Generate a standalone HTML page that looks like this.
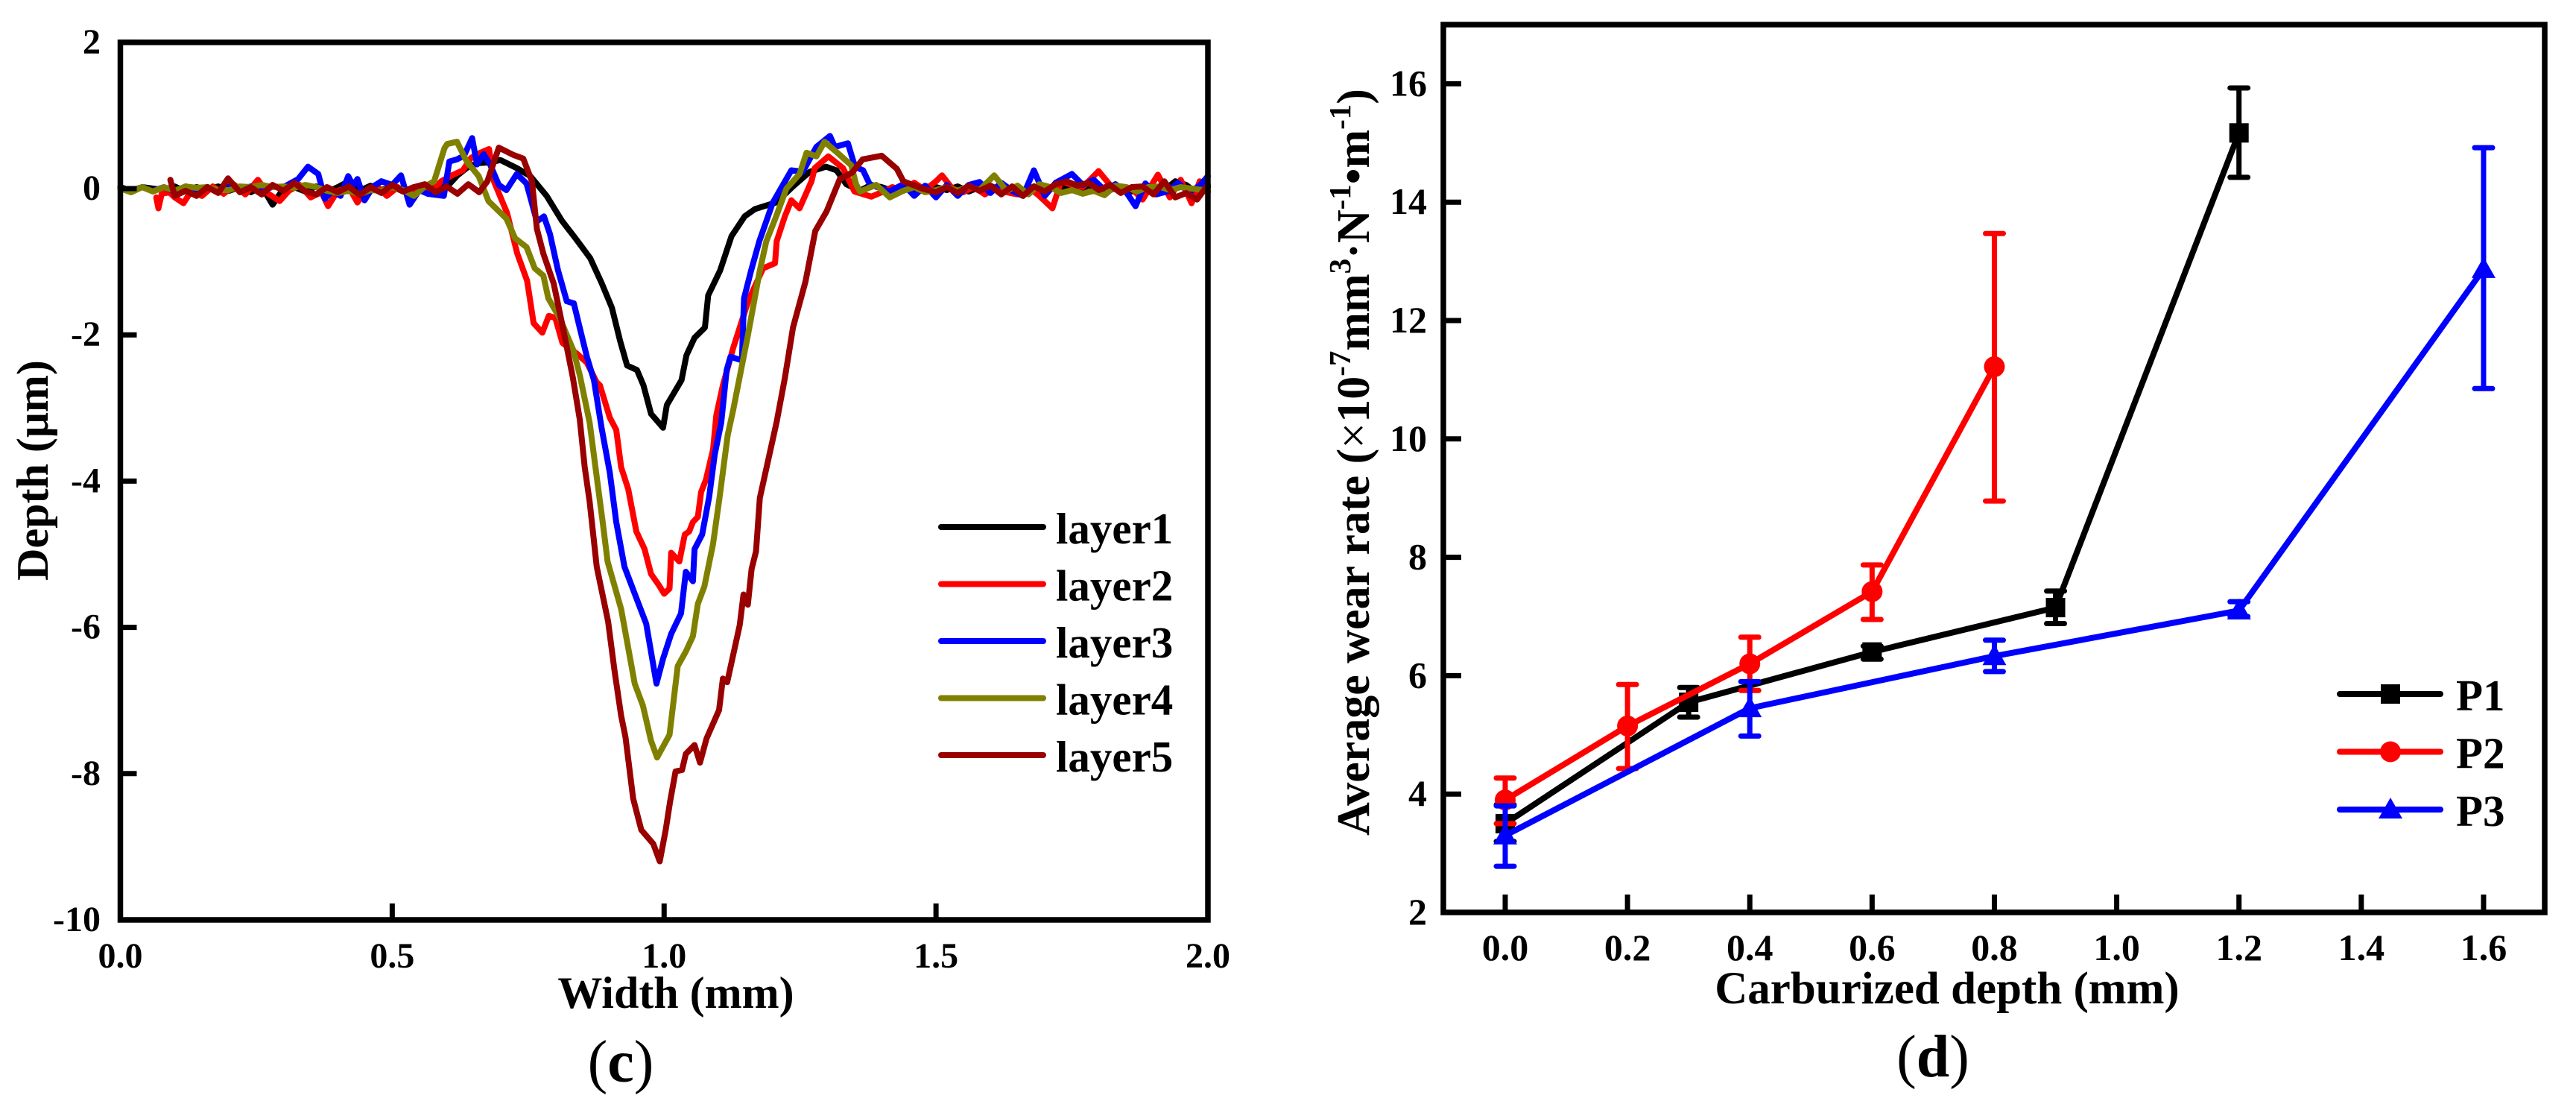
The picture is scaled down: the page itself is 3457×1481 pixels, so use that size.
<!DOCTYPE html>
<html lang="en">
<head>
<meta charset="utf-8">
<title>Wear track profiles and average wear rate</title>
<style>
html,body{margin:0;padding:0;background:#fff;}
svg{display:block;font-family:"Liberation Serif","Times New Roman",serif;}
text{fill:#000;font-weight:bold;}
</style>
</head>
<body>
<svg id="figure" xmlns="http://www.w3.org/2000/svg" width="3457" height="1481" viewBox="0 0 3457 1481">
  <rect x="0" y="0" width="3457" height="1481" fill="#fff"/>
  <g id="panel-c"></g>
  <g id="panel-d"></g>
  <text x="907" y="1352" font-size="60" text-anchor="middle">Width (mm)</text>
  <text transform="translate(64,631) rotate(-90)" font-size="60" text-anchor="middle">Depth (μm)</text>
  <text x="833" y="1451" font-size="80" text-anchor="middle"><tspan style="font-weight:normal">(</tspan>c<tspan style="font-weight:normal">)</tspan></text>
  <text x="2613" y="1346" font-size="61" text-anchor="middle">Carburized depth (mm)</text>
  <text transform="translate(1837,620) rotate(-90)" font-size="62" text-anchor="middle">Average wear rate (<tspan style="font-weight:normal">×</tspan>10<tspan dy="-25" font-size="41">-7</tspan><tspan dy="25">mm</tspan><tspan dy="-25" font-size="41">3</tspan><tspan dy="25">·N</tspan><tspan dy="-25" font-size="41">-1</tspan><tspan dy="25">•m</tspan><tspan dy="-25" font-size="41">-1</tspan><tspan dy="25">)</tspan></text>
  <text x="2594" y="1444" font-size="80" text-anchor="middle"><tspan style="font-weight:normal">(</tspan>d<tspan style="font-weight:normal">)</tspan></text>
</svg>
<script>
// ---------- Panel (c) data ----------
const depthXTicks = [0, 0.5, 1, 1.5, 2];
const depthXTickLabels = ["0.0", "0.5", "1.0", "1.5", "2.0"];
const depthYTicks = [2, 0, -2, -4, -6, -8, -10];
const depthYTickLabels = ["2", "0", "-2", "-4", "-6", "-8", "-10"];
const layerNames = ["layer1", "layer2", "layer3", "layer4", "layer5"];

const layer1Width = [0,.02,.04,.06,.08,.1,.12,.14,.16,.18,.2,.22,.24,.26,.28,.3,.32,.34,.36,.38,.4,.42,.44,.46,.48,.5,.52,.54,.56,.58,.6,.62,.64,.66,.68,.699,.729,.754,.784,.812,.837,.864,.885,.904,.919,.932,.95,.962,.976,.998,1.005,1.032,1.041,1.056,1.075,1.081,1.103,1.124,1.148,1.167,1.206,1.237,1.268,1.298,1.317,1.335,1.36,1.38,1.4,1.42,1.44,1.46,1.48,1.5,1.52,1.54,1.56,1.58,1.6,1.62,1.64,1.66,1.68,1.7,1.72,1.74,1.76,1.78,1.8,1.82,1.84,1.86,1.88,1.9,1.92,1.94,1.96,1.98,2];
const layer1Depth = [.02,-.03,.02,0,-.02,.03,-.04,.02,-.02,.03,-.03,.02,-.05,.03,-.22,0,.02,-.04,.03,-.05,.02,.1,-.03,.04,-.02,.03,-.04,.02,0,.05,.02,.18,.3,.35,.36,.39,.28,.17,-.1,-.44,-.68,-.95,-1.29,-1.63,-2.08,-2.42,-2.48,-2.69,-3.08,-3.27,-2.96,-2.62,-2.28,-2.04,-1.9,-1.46,-1.12,-.65,-.38,-.28,-.19,.03,.23,.3,.25,.06,-.03,.05,.02,-.03,.02,-.04,.03,.02,-.02,.03,-.04,.02,.04,-.03,.02,-.05,.03,-.06,.03,.02,-.02,.04,.03,-.02,.03,-.04,.02,.03,-.02,.1,.05,-.06,.02];

const layer2Width = [.066,.07,.076,.09,.1,.116,.13,.15,.17,.19,.21,.23,.253,.27,.293,.31,.33,.35,.37,.382,.4,.42,.436,.45,.47,.49,.51,.53,.55,.57,.59,.61,.63,.645,.662,.678,.687,.711,.73,.748,.76,.776,.788,.8,.813,.84,.858,.876,.882,.9,.912,.921,.934,.949,.964,.976,.99,1,1.01,1.013,1.028,1.038,1.046,1.053,1.062,1.068,1.077,1.09,1.096,1.108,1.127,1.155,1.182,1.204,1.207,1.222,1.234,1.249,1.271,1.277,1.302,1.329,1.35,1.381,1.4,1.42,1.44,1.46,1.48,1.5,1.511,1.53,1.55,1.57,1.59,1.61,1.63,1.65,1.67,1.69,1.714,1.73,1.75,1.77,1.799,1.82,1.84,1.86,1.88,1.908,1.93,1.95,1.97,1.985,2];
const layer2Depth = [-.12,-.27,-.07,-.05,-.12,-.2,-.04,-.1,.03,-.07,.05,-.08,.12,-.06,-.17,-.03,.05,-.12,-.05,-.24,-.03,.02,-.19,-.04,.05,-.1,.02,-.08,.03,-.06,.1,.18,.25,.42,.49,.54,.1,-.33,-.89,-1.26,-1.84,-1.97,-1.74,-1.77,-2.11,-2.26,-2.38,-2.65,-2.69,-3.13,-3.3,-3.81,-4.11,-4.69,-4.93,-5.27,-5.42,-5.54,-5.47,-4.98,-5.1,-4.73,-4.69,-4.56,-4.49,-4.15,-3.98,-3.57,-3.1,-2.69,-2.18,-1.53,-1.09,-1.02,-.72,-.38,-.16,-.27,.1,.28,.44,.28,-.04,-.11,-.05,.02,-.03,.08,-.02,.1,.18,0,-.05,.02,-.08,.02,-.05,-.08,.02,-.1,-.27,.1,.05,.02,.24,.05,-.05,0,-.15,.19,-.12,.12,-.2,.1,-.05];

const layer3Width = [.06,.08,.1,.12,.14,.16,.18,.2,.22,.24,.26,.28,.3,.327,.345,.364,.376,.39,.405,.419,.428,.436,.449,.465,.48,.5,.516,.532,.55,.565,.595,.605,.619,.632,.647,.656,.668,.68,.696,.71,.729,.747,.766,.779,.79,.805,.821,.834,.846,.858,.871,.885,.9,.912,.927,.948,.967,.986,.998,1.013,1.031,1.04,1.053,1.056,1.07,1.083,1.093,1.105,1.115,1.122,1.143,1.147,1.16,1.175,1.2,1.234,1.255,1.28,1.305,1.314,1.338,1.351,1.366,1.378,1.414,1.44,1.46,1.48,1.5,1.52,1.54,1.56,1.58,1.6,1.62,1.64,1.66,1.68,1.7,1.72,1.75,1.77,1.79,1.81,1.83,1.85,1.867,1.885,1.905,1.925,1.945,1.965,1.985,2];
const layer3Depth = [-.03,.02,-.04,.03,-.02,.02,-.04,.03,-.02,.03,-.05,.03,.02,.13,.3,.2,-.14,-.03,-.1,.17,.04,.13,-.16,.03,.1,.05,.18,-.22,-.02,-.07,-.1,.37,.4,.45,.69,.33,.47,.33,.05,-.02,.2,.07,-.45,-.38,-.62,-1.12,-1.54,-1.57,-1.94,-2.3,-2.62,-3.27,-3.88,-4.56,-5.17,-5.58,-5.95,-6.77,-6.43,-6.09,-5.81,-5.24,-5.37,-4.93,-4.73,-4.21,-3.64,-3.2,-2.48,-2.3,-2.35,-1.5,-1.12,-.72,-.19,.25,.23,.57,.72,.57,.62,.3,.25,.06,-.04,.06,-.1,.04,-.12,.05,-.1,.05,.09,-.06,.08,-.03,-.1,.25,-.1,.08,.2,.05,.12,-.02,.06,-.05,-.24,.07,-.08,-.04,.08,-.05,.04,.17];

const layer4Width = [0,.02,.04,.06,.08,.1,.12,.14,.16,.18,.2,.22,.24,.26,.28,.3,.32,.34,.36,.38,.4,.42,.44,.46,.48,.5,.52,.54,.56,.577,.596,.601,.619,.637,.659,.677,.71,.726,.747,.762,.778,.787,.808,.833,.845,.863,.875,.887,.896,.921,.946,.961,.976,.987,1.01,1.025,1.04,1.053,1.062,1.074,1.09,1.102,1.117,1.127,1.154,1.176,1.188,1.206,1.225,1.249,1.262,1.28,1.295,1.317,1.344,1.353,1.36,1.39,1.415,1.44,1.46,1.48,1.5,1.52,1.54,1.56,1.58,1.607,1.63,1.65,1.67,1.69,1.71,1.73,1.75,1.77,1.79,1.81,1.83,1.85,1.87,1.89,1.91,1.93,1.95,1.97,2];
const layer4Depth = [0,-.05,.02,-.04,.02,-.03,.03,.01,.02,-.02,-.02,.03,.02,.05,.02,.03,.01,.05,.02,-.03,-.06,-.03,-.08,-.02,-.03,.02,-.02,-.1,.03,.1,.55,.61,.64,.37,.17,-.17,-.41,-.68,-.8,-1.09,-1.19,-1.5,-1.77,-2.21,-2.55,-3.2,-3.88,-4.56,-5.1,-5.75,-6.77,-7.07,-7.55,-7.78,-7.47,-6.53,-6.33,-6.12,-5.68,-5.44,-4.86,-4.22,-3.37,-3.03,-2.01,-1.12,-.72,-.38,0,.2,.49,.44,.64,.5,.32,.06,-.04,.05,-.12,-.03,.02,-.05,-.02,.02,-.03,.03,-.02,.18,-.03,.04,-.08,.06,.02,-.06,-.02,-.07,-.03,-.09,.04,.02,-.04,.02,.03,-.02,.02,0,-.03];

const layer5Width = [.092,.1,.12,.14,.16,.18,.198,.22,.24,.26,.28,.3,.32,.34,.36,.38,.4,.42,.44,.46,.48,.5,.52,.54,.56,.58,.6,.62,.64,.66,.675,.696,.723,.741,.757,.766,.778,.797,.815,.832,.845,.854,.863,.876,.897,.909,.921,.929,.943,.958,.98,.992,1.003,1.011,1.021,1.033,1.04,1.056,1.066,1.078,1.101,1.108,1.116,1.139,1.146,1.154,1.161,1.169,1.176,1.207,1.222,1.237,1.26,1.278,1.299,1.323,1.346,1.365,1.4,1.428,1.44,1.475,1.5,1.52,1.54,1.56,1.58,1.6,1.62,1.64,1.66,1.68,1.7,1.72,1.74,1.76,1.78,1.8,1.82,1.84,1.86,1.88,1.9,1.92,1.94,1.96,1.98,2];
const layer5Depth = [.12,-.1,-.03,-.1,.02,-.06,.14,-.05,.02,-.08,.05,-.03,.08,-.04,-.08,.02,-.05,.03,-.09,.02,-.06,.05,-.04,.02,.06,-.05,.03,-.07,.06,-.05,.1,.56,.46,.41,.1,-.55,-.89,-1.3,-1.94,-2.58,-3.16,-3.81,-4.28,-5.17,-5.92,-6.6,-7.21,-7.5,-8.34,-8.77,-8.96,-9.2,-8.77,-8.38,-7.97,-7.95,-7.73,-7.61,-7.85,-7.52,-7.13,-6.7,-6.75,-5.97,-5.55,-5.69,-5.2,-4.96,-4.23,-3.19,-2.59,-1.9,-1.27,-.58,-.31,.13,.22,.4,.45,.27,.1,0,-.05,.02,-.06,.04,-.03,.04,-.08,.03,-.1,.03,-.04,.06,.1,.04,.08,-.02,.05,-.06,.02,.03,-.08,.1,-.12,-.06,-.15,.05];

// ---------- Panel (d) data ----------
const wearXTicks = [0, .2, .4, .6, .8, 1, 1.2, 1.4, 1.6];
const wearXTickLabels = ["0.0", "0.2", "0.4", "0.6", "0.8", "1.0", "1.2", "1.4", "1.6"];
const wearYTicks = [2, 4, 6, 8, 10, 12, 14, 16];
const wearYTickLabels = ["2", "4", "6", "8", "10", "12", "14", "16"];
const seriesNames = ["P1", "P2", "P3"];

const p1Depths = [0, .3, .6, .9, 1.2];
const p1Wear = [3.5, 5.55, 6.4, 7.15, 15.17];
const p1Low = [3.2, 5.3, 6.28, 6.88, 14.42];
const p1High = [3.82, 5.8, 6.5, 7.43, 15.93];

const p2Depths = [0, .2, .4, .6, .8];
const p2Wear = [3.9, 5.15, 6.2, 7.42, 11.22];
const p2Low = [3.5, 4.43, 5.75, 6.95, 8.95];
const p2High = [4.27, 5.85, 6.65, 7.87, 13.47];

const p3Depths = [0, .4, .8, 1.2, 1.6];
const p3Wear = [3.3, 5.45, 6.33, 7.1, 12.87];
const p3Low = [2.78, 4.98, 6.07, 7, 10.85];
const p3High = [3.8, 5.9, 6.6, 7.25, 14.92];

// ---------- Helpers ----------
const NS = "http://www.w3.org/2000/svg";
function mk(parent, tag, props, content) {
  const el = document.createElementNS(NS, tag);
  for (const k in props) el.setAttribute(k, props[k]);
  if (content !== undefined) el.textContent = content;
  parent.appendChild(el);
  return el;
}
function pathOf(xs, ys, fx, fy) {
  return xs.map((v, i) => (i ? "L" : "M") + fx(v).toFixed(1) + " " + fy(ys[i]).toFixed(1)).join("");
}

// ---------- Panel (c) ----------
const panelC = document.getElementById("panel-c");
const cX = v => 161.5 + 729.75 * v;
const cY = v => 253 - 98.1 * v;
const layerColors = ["#000000", "#ff0000", "#0000ff", "#808000", "#990000"];
const layerWidths = [layer1Width, layer2Width, layer3Width, layer4Width, layer5Width];
const layerDepths = [layer1Depth, layer2Depth, layer3Depth, layer4Depth, layer5Depth];

layerNames.forEach((name, i) => {
  const curve = mk(panelC, "path", {d: pathOf(layerWidths[i], layerDepths[i], cX, cY), fill: "none", stroke: layerColors[i], "stroke-width": 8, "stroke-linejoin": "round", "stroke-linecap": "round"});
  
  
});

const cFrame = mk(panelC, "rect", {x: cX(0), y: cY(2), width: cX(2) - cX(0), height: cY(-10) - cY(2), fill: "none", stroke: "#000", "stroke-width": 7.5});



depthXTicks.forEach((v, i) => {
  if (i > 0 && i < depthXTicks.length - 1) {
    const tick = mk(panelC, "line", {x1: cX(v), x2: cX(v), y1: cY(-10), y2: cY(-10) - 22, stroke: "#000", "stroke-width": 7});
    
    
  }
  const label = mk(panelC, "text", {x: cX(v), y: 1298, "font-size": 48, "text-anchor": "middle"}, depthXTickLabels[i]);
  
  
});
depthYTicks.forEach((v, i) => {
  const tick = mk(panelC, "line", {x1: cX(0), x2: cX(0) + 22, y1: cY(v), y2: cY(v), stroke: "#000", "stroke-width": 7});
  
  
  const label = mk(panelC, "text", {x: 135, y: cY(v) + 15, "font-size": 48, "text-anchor": "end"}, depthYTickLabels[i]);
  
  
});

layerNames.forEach((name, i) => {
  const rowY = 707 + 76.5 * i;
  const key = mk(panelC, "line", {x1: 1263, x2: 1400, y1: rowY, y2: rowY, stroke: layerColors[i], "stroke-width": 8, "stroke-linecap": "round"});
  
  
  const label = mk(panelC, "text", {x: 1417, y: rowY + 22, "font-size": 59}, name);
  
  
});

// ---------- Panel (d) ----------
const panelD = document.getElementById("panel-d");
const dX = v => 2020 + 820.6 * v;
const dY = v => 1224 - 79.4 * (v - 2);
const seriesColors = ["#000000", "#ff0000", "#0000ff"];
const seriesX = [p1Depths, p2Depths, p3Depths];
const seriesY = [p1Wear, p2Wear, p3Wear];
const seriesLow = [p1Low, p2Low, p3Low];
const seriesHigh = [p1High, p2High, p3High];

function marker(parent, idx, cx, cy) {
  const color = seriesColors[idx];
  if (idx === 0) return mk(parent, "rect", {x: cx - 13, y: cy - 13, width: 26, height: 26, fill: color});
  if (idx === 1) return mk(parent, "circle", {cx: cx, cy: cy, r: 14, fill: color});
  return mk(parent, "polygon", {points: (cx - 16) + "," + (cy + 12) + " " + (cx + 16) + "," + (cy + 12) + " " + cx + "," + (cy - 16), fill: color});
}

seriesNames.forEach((name, s) => {
  const line = mk(panelD, "path", {d: pathOf(seriesX[s], seriesY[s], dX, dY), fill: "none", stroke: seriesColors[s], "stroke-width": 8, "stroke-linejoin": "round"});
  
  
  seriesX[s].forEach((v, i) => {
    const px = dX(v);
    const bar = mk(panelD, "line", {x1: px, x2: px, y1: dY(seriesLow[s][i]), y2: dY(seriesHigh[s][i]), stroke: seriesColors[s], "stroke-width": 7});
    
    
    [seriesLow[s][i], seriesHigh[s][i]].forEach(val => {
      const cap = mk(panelD, "line", {x1: px - 12, x2: px + 12, y1: dY(val), y2: dY(val), stroke: seriesColors[s], "stroke-width": 7, "stroke-linecap": "round"});
      
      
    });
    const mark = marker(panelD, s, px, dY(seriesY[s][i]));
    
    
  });
});

const dFrame = mk(panelD, "rect", {x: 1937, y: 33, width: 3415 - 1937, height: 1224 - 33, fill: "none", stroke: "#000", "stroke-width": 7.5});



wearXTicks.forEach((v, i) => {
  const tick = mk(panelD, "line", {x1: dX(v), x2: dX(v), y1: 1224, y2: 1200, stroke: "#000", "stroke-width": 7});
  
  
  const label = mk(panelD, "text", {x: dX(v), y: 1288, "font-size": 50, "text-anchor": "middle"}, wearXTickLabels[i]);
  
  
});
wearYTicks.forEach((v, i) => {
  const tick = mk(panelD, "line", {x1: 1937, x2: 1961, y1: dY(v), y2: dY(v), stroke: "#000", "stroke-width": 7});
  
  
  const label = mk(panelD, "text", {x: 1915, y: dY(v) + 16, "font-size": 50, "text-anchor": "end"}, wearYTickLabels[i]);
  
  
});

seriesNames.forEach((name, s) => {
  const rowY = 931 + 77.5 * s;
  const key = mk(panelD, "line", {x1: 3140, x2: 3275, y1: rowY, y2: rowY, stroke: seriesColors[s], "stroke-width": 8, "stroke-linecap": "round"});
  
  
  const keyMark = marker(panelD, s, 3208, rowY);
  
  
  const label = mk(panelD, "text", {x: 3296, y: rowY + 22, "font-size": 59}, name);
  
  
});
</script>
</body>
</html>
